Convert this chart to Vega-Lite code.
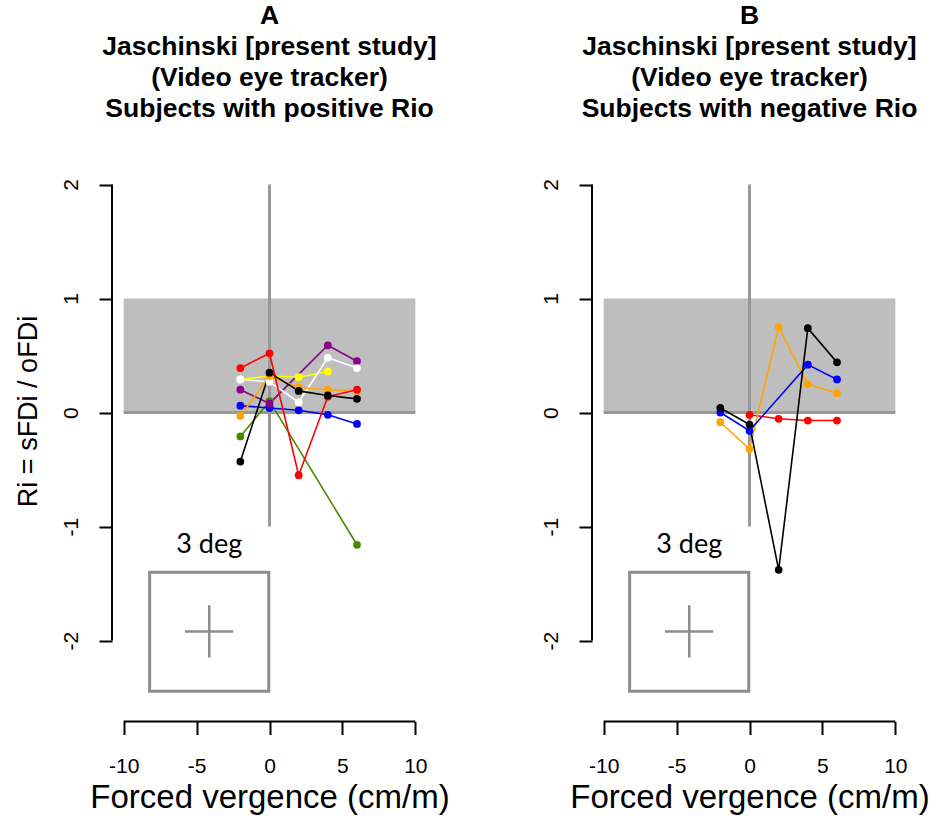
{
  "$schema": "https://vega.github.io/schema/vega-lite/v6.json",
  "padding": {"left": 13, "top": 2, "right": 0, "bottom": 0},
  "background": "white",
  "datasets": {
    "pts": [
      {"panel": "A", "subject": "green", "x": -2, "y": -0.21},
      {"panel": "A", "subject": "green", "x": 0, "y": 0.10},
      {"panel": "A", "subject": "green", "x": 6, "y": -1.16},
      {"panel": "A", "subject": "blue", "x": -2, "y": 0.06},
      {"panel": "A", "subject": "blue", "x": 0, "y": 0.04},
      {"panel": "A", "subject": "blue", "x": 2, "y": 0.02},
      {"panel": "A", "subject": "blue", "x": 4, "y": -0.02},
      {"panel": "A", "subject": "blue", "x": 6, "y": -0.10},
      {"panel": "A", "subject": "purple", "x": -2, "y": 0.20},
      {"panel": "A", "subject": "purple", "x": 0, "y": 0.08},
      {"panel": "A", "subject": "purple", "x": 4, "y": 0.59},
      {"panel": "A", "subject": "purple", "x": 6, "y": 0.45},
      {"panel": "A", "subject": "yellow", "x": -2, "y": 0.29},
      {"panel": "A", "subject": "yellow", "x": 0, "y": 0.32},
      {"panel": "A", "subject": "yellow", "x": 2, "y": 0.31},
      {"panel": "A", "subject": "yellow", "x": 4, "y": 0.36},
      {"panel": "A", "subject": "white", "x": -2, "y": 0.29},
      {"panel": "A", "subject": "white", "x": 0, "y": 0.27},
      {"panel": "A", "subject": "white", "x": 2, "y": 0.09},
      {"panel": "A", "subject": "white", "x": 4, "y": 0.48},
      {"panel": "A", "subject": "white", "x": 6, "y": 0.39},
      {"panel": "A", "subject": "orange", "x": -2, "y": -0.03},
      {"panel": "A", "subject": "orange", "x": 0, "y": 0.32},
      {"panel": "A", "subject": "orange", "x": 2, "y": 0.22},
      {"panel": "A", "subject": "orange", "x": 4, "y": 0.20},
      {"panel": "A", "subject": "orange", "x": 6, "y": 0.19},
      {"panel": "A", "subject": "red", "x": -2, "y": 0.39},
      {"panel": "A", "subject": "red", "x": 0, "y": 0.52},
      {"panel": "A", "subject": "red", "x": 2, "y": -0.55},
      {"panel": "A", "subject": "red", "x": 4, "y": 0.14},
      {"panel": "A", "subject": "red", "x": 6, "y": 0.20},
      {"panel": "A", "subject": "black", "x": -2, "y": -0.43},
      {"panel": "A", "subject": "black", "x": 0, "y": 0.35},
      {"panel": "A", "subject": "black", "x": 2, "y": 0.19},
      {"panel": "A", "subject": "black", "x": 4, "y": 0.15},
      {"panel": "A", "subject": "black", "x": 6, "y": 0.12},
      {"panel": "B", "subject": "red", "x": 0, "y": -0.02},
      {"panel": "B", "subject": "red", "x": 2, "y": -0.055},
      {"panel": "B", "subject": "red", "x": 4, "y": -0.07},
      {"panel": "B", "subject": "red", "x": 6, "y": -0.07},
      {"panel": "B", "subject": "orange", "x": -2, "y": -0.085},
      {"panel": "B", "subject": "orange", "x": 0, "y": -0.32},
      {"panel": "B", "subject": "orange", "x": 2, "y": 0.75},
      {"panel": "B", "subject": "orange", "x": 4, "y": 0.25},
      {"panel": "B", "subject": "orange", "x": 6, "y": 0.17},
      {"panel": "B", "subject": "blue", "x": -2, "y": 0.00},
      {"panel": "B", "subject": "blue", "x": 0, "y": -0.16},
      {"panel": "B", "subject": "blue", "x": 4, "y": 0.42},
      {"panel": "B", "subject": "blue", "x": 6, "y": 0.29},
      {"panel": "B", "subject": "black", "x": -2, "y": 0.04},
      {"panel": "B", "subject": "black", "x": 0, "y": -0.105},
      {"panel": "B", "subject": "black", "x": 2, "y": -1.38},
      {"panel": "B", "subject": "black", "x": 4, "y": 0.74},
      {"panel": "B", "subject": "black", "x": 6, "y": 0.44}
    ]
  },
  "bounds": "flush",
  "spacing": 165,
  "hconcat": [
    {
      "width": 315,
      "height": 557.5,
      "title": {"text": ["A", "Jaschinski [present study]", "(Video eye tracker)", "Subjects with positive Rio"]},
      "layer": [
        {"data": {"name": "pts"}, "transform": [{"filter": "datum.panel === 'A'"}],
         "mark": {"type": "point", "opacity": 0},
         "encoding": {"x": {"field": "x", "type": "quantitative", "scale": {"domain": [-10.8, 10.8], "nice": false, "zero": false}, "axis": {"title": "Forced vergence (cm/m)", "values": [-10, -5, 0, 5, 10]}},
                      "y": {"field": "y", "type": "quantitative", "scale": {"domain": [-2.71, 2.18], "nice": false, "zero": false}, "axis": {"title": "Ri = sFDi / oFDi", "values": [-2, -1, 0, 1, 2]}}}},
        {"data": {"values": [{}]}, "mark": {"type": "rect", "color": "#bebebe"},
         "encoding": {"x": {"datum": -10, "type": "quantitative"}, "x2": {"datum": 10},
                      "y": {"datum": 0, "type": "quantitative"}, "y2": {"datum": 1}}},
        {"data": {"values": [{}]}, "mark": {"type": "rule", "color": "#999999", "strokeWidth": 3},
         "encoding": {"x": {"datum": -10, "type": "quantitative"}, "x2": {"datum": 10}, "y": {"datum": 0, "type": "quantitative"}}},
        {"data": {"values": [{}]}, "mark": {"type": "rule", "color": "#999999", "strokeWidth": 3},
         "encoding": {"x": {"datum": 0, "type": "quantitative"}, "y": {"datum": -1, "type": "quantitative"}, "y2": {"datum": 2}}},
        {"data": {"values": [{}]}, "mark": {"type": "rect", "fill": null, "fillOpacity": 0, "stroke": "#8c8c8c", "strokeWidth": 3},
         "encoding": {"x": {"datum": -8.22, "type": "quantitative"}, "x2": {"datum": -0.05}, "y": {"datum": -2.445, "type": "quantitative"}, "y2": {"datum": -1.40}}},
        {"data": {"values": [{}]}, "mark": {"type": "rule", "color": "#8c8c8c", "strokeWidth": 2.5},
         "encoding": {"x": {"datum": -5.80, "type": "quantitative"}, "x2": {"datum": -2.49}, "y": {"datum": -1.92, "type": "quantitative"}}},
        {"data": {"values": [{}]}, "mark": {"type": "rule", "color": "#8c8c8c", "strokeWidth": 2.5},
         "encoding": {"x": {"datum": -4.13, "type": "quantitative"}, "y": {"datum": -2.15, "type": "quantitative"}, "y2": {"datum": -1.69}}},
        {"data": {"values": [{"label": "3 deg"}]}, "mark": {"type": "text", "font": "Lato", "fontSize": 27, "color": "#000000", "align": "center", "baseline": "middle"},
         "encoding": {"text": {"field": "label"}, "x": {"datum": -4.13, "type": "quantitative"}, "y": {"datum": -1.16, "type": "quantitative"}}},
        {"data": {"values": [{}]}, "mark": {"type": "rule", "color": "#000000", "strokeWidth": 2},
         "encoding": {"x": {"datum": -10.8, "type": "quantitative"}, "y": {"datum": -2, "type": "quantitative"}, "y2": {"datum": 2}}},
        {"data": {"values": [{}]}, "mark": {"type": "rule", "color": "#000000", "strokeWidth": 2},
         "encoding": {"x": {"datum": -10, "type": "quantitative"}, "x2": {"datum": 10}, "y": {"datum": -2.71, "type": "quantitative"}}},
        {"data": {"name": "pts"}, "transform": [{"filter": "datum.panel === 'A'"}],
         "mark": {"type": "line", "strokeWidth": 1.6},
         "encoding": {"x": {"field": "x", "type": "quantitative"}, "y": {"field": "y", "type": "quantitative"},
                      "order": {"field": "x", "type": "quantitative"},
                      "color": {"field": "subject", "type": "nominal", "legend": null,
                                "scale": {"domain": ["red", "blue", "black", "orange", "purple", "yellow", "white", "green"], "range": ["#ff0000", "#0000ff", "#000000", "#ffa500", "#8b008b", "#ffff00", "#ffffff", "#458b00"]}}}},
        {"data": {"name": "pts"}, "transform": [{"filter": "datum.panel === 'A'"}],
         "mark": {"type": "circle", "size": 60, "opacity": 1},
         "encoding": {"x": {"field": "x", "type": "quantitative"}, "y": {"field": "y", "type": "quantitative"},
                      "color": {"field": "subject", "type": "nominal", "legend": null}}}
      ]
    },
    {
      "width": 315,
      "height": 557.5,
      "title": {"text": ["B", "Jaschinski [present study]", "(Video eye tracker)", "Subjects with negative Rio"]},
      "layer": [
        {"data": {"name": "pts"}, "transform": [{"filter": "datum.panel === 'B'"}],
         "mark": {"type": "point", "opacity": 0},
         "encoding": {"x": {"field": "x", "type": "quantitative", "scale": {"domain": [-10.8, 10.8], "nice": false, "zero": false}, "axis": {"title": "Forced vergence (cm/m)", "values": [-10, -5, 0, 5, 10]}},
                      "y": {"field": "y", "type": "quantitative", "scale": {"domain": [-2.71, 2.18], "nice": false, "zero": false}, "axis": {"title": "", "values": [-2, -1, 0, 1, 2]}}}},
        {"data": {"values": [{}]}, "mark": {"type": "rect", "color": "#bebebe"},
         "encoding": {"x": {"datum": -10, "type": "quantitative"}, "x2": {"datum": 10},
                      "y": {"datum": 0, "type": "quantitative"}, "y2": {"datum": 1}}},
        {"data": {"values": [{}]}, "mark": {"type": "rule", "color": "#999999", "strokeWidth": 3},
         "encoding": {"x": {"datum": -10, "type": "quantitative"}, "x2": {"datum": 10}, "y": {"datum": 0, "type": "quantitative"}}},
        {"data": {"values": [{}]}, "mark": {"type": "rule", "color": "#999999", "strokeWidth": 3},
         "encoding": {"x": {"datum": 0, "type": "quantitative"}, "y": {"datum": -1, "type": "quantitative"}, "y2": {"datum": 2}}},
        {"data": {"values": [{}]}, "mark": {"type": "rect", "fill": null, "fillOpacity": 0, "stroke": "#8c8c8c", "strokeWidth": 3},
         "encoding": {"x": {"datum": -8.22, "type": "quantitative"}, "x2": {"datum": -0.05}, "y": {"datum": -2.445, "type": "quantitative"}, "y2": {"datum": -1.40}}},
        {"data": {"values": [{}]}, "mark": {"type": "rule", "color": "#8c8c8c", "strokeWidth": 2.5},
         "encoding": {"x": {"datum": -5.80, "type": "quantitative"}, "x2": {"datum": -2.49}, "y": {"datum": -1.92, "type": "quantitative"}}},
        {"data": {"values": [{}]}, "mark": {"type": "rule", "color": "#8c8c8c", "strokeWidth": 2.5},
         "encoding": {"x": {"datum": -4.13, "type": "quantitative"}, "y": {"datum": -2.15, "type": "quantitative"}, "y2": {"datum": -1.69}}},
        {"data": {"values": [{"label": "3 deg"}]}, "mark": {"type": "text", "font": "Lato", "fontSize": 27, "color": "#000000", "align": "center", "baseline": "middle"},
         "encoding": {"text": {"field": "label"}, "x": {"datum": -4.13, "type": "quantitative"}, "y": {"datum": -1.16, "type": "quantitative"}}},
        {"data": {"values": [{}]}, "mark": {"type": "rule", "color": "#000000", "strokeWidth": 2},
         "encoding": {"x": {"datum": -10.8, "type": "quantitative"}, "y": {"datum": -2, "type": "quantitative"}, "y2": {"datum": 2}}},
        {"data": {"values": [{}]}, "mark": {"type": "rule", "color": "#000000", "strokeWidth": 2},
         "encoding": {"x": {"datum": -10, "type": "quantitative"}, "x2": {"datum": 10}, "y": {"datum": -2.71, "type": "quantitative"}}},
        {"data": {"name": "pts"}, "transform": [{"filter": "datum.panel === 'B'"}],
         "mark": {"type": "line", "strokeWidth": 1.6},
         "encoding": {"x": {"field": "x", "type": "quantitative"}, "y": {"field": "y", "type": "quantitative"},
                      "order": {"field": "x", "type": "quantitative"},
                      "color": {"field": "subject", "type": "nominal", "legend": null,
                                "scale": {"domain": ["red", "blue", "black", "orange"], "range": ["#ff0000", "#0000ff", "#000000", "#ffa500"]}}}},
        {"data": {"name": "pts"}, "transform": [{"filter": "datum.panel === 'B'"}],
         "mark": {"type": "circle", "size": 60, "opacity": 1},
         "encoding": {"x": {"field": "x", "type": "quantitative"}, "y": {"field": "y", "type": "quantitative"},
                      "color": {"field": "subject", "type": "nominal", "legend": null}}}
      ]
    }
  ],
  "resolve": {"scale": {"color": "independent"}},
  "config": {
    "view": {"stroke": null},
    "axis": {"domain": false, "grid": false, "ticks": true, "tickColor": "#000000", "tickWidth": 2, "tickSize": 13,
             "labelFont": "Liberation Sans", "labelFontSize": 21, "labelColor": "#000000", "labelFlush": false, "labelOverlap": false,
             "labelExpr": "'' + datum.value",
             "titleFont": "Liberation Sans", "titleFontSize": 27, "titleFontWeight": "normal", "titleColor": "#000000"},
    "axisX": {"labelPadding": 21, "titlePadding": 5, "titleFontSize": 33},
    "axisY": {"labelAngle": 270, "labelAlign": "center", "labelBaseline": "bottom", "labelPadding": 18, "titlePadding": 18, "titleY": 247},
    "title": {"font": "Liberation Sans", "fontSize": 26.5, "fontWeight": "bold", "lineHeight": 31, "offset": 42, "anchor": "middle", "color": "#000000"}
  }
}
